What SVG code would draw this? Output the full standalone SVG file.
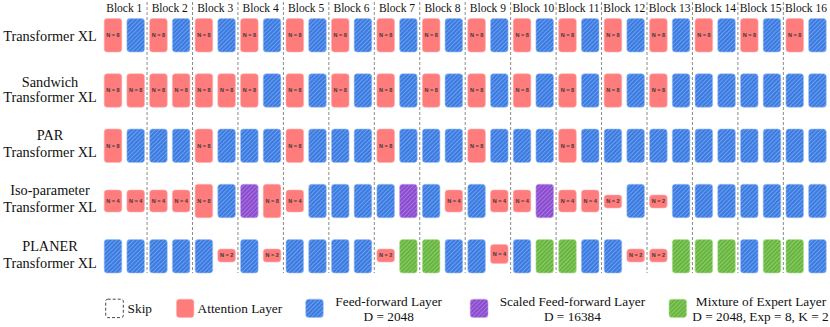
<svg xmlns="http://www.w3.org/2000/svg" width="830" height="327" viewBox="0 0 830 327">
<defs>
<pattern id="pb" width="3" height="3" patternUnits="userSpaceOnUse" patternTransform="rotate(45)"><rect width="3" height="3" fill="#3b7bdf"/><line x1="0.5" y1="0" x2="0.5" y2="3" stroke="#6b9ef0" stroke-width="1"/></pattern>
<pattern id="pp" width="3" height="3" patternUnits="userSpaceOnUse" patternTransform="rotate(45)"><rect width="3" height="3" fill="#8a4ccc"/><line x1="0.5" y1="0" x2="0.5" y2="3" stroke="#a874e2" stroke-width="1"/></pattern>
<pattern id="pg" width="3" height="3" patternUnits="userSpaceOnUse" patternTransform="rotate(45)"><rect width="3" height="3" fill="#67b540"/><line x1="0.5" y1="0" x2="0.5" y2="3" stroke="#8ccc68" stroke-width="1"/></pattern>
</defs>
<style>
.att{fill:#fe7c7c;stroke:#ffb0b0;stroke-width:0.6}
.ff{fill:url(#pb);stroke:#9cc0f5;stroke-width:0.6}
.sff{fill:url(#pp);stroke:#c4a0ee;stroke-width:0.6}
.moe{fill:url(#pg);stroke:#b0e090;stroke-width:0.6}
.n{font-family:'Liberation Sans',Arial,sans-serif;font-size:5.5px;fill:#3a3a3a;text-anchor:middle;font-weight:bold}
.lbl{font-family:'Liberation Serif','Times New Roman','DejaVu Serif',serif;font-size:14.3px;fill:#111;text-anchor:middle}
.blk{font-family:'Liberation Serif','Times New Roman','DejaVu Serif',serif;font-size:11.5px;fill:#111;text-anchor:middle}
.leg{font-family:'Liberation Serif','Times New Roman','DejaVu Serif',serif;font-size:13.3px;fill:#111}
.div{stroke:#8a8a8a;stroke-width:1;stroke-dasharray:3 2}
</style>
<rect width="830" height="327" fill="#fff"/>

<g id="block-labels">
<text class="blk" x="124.3" y="12.3">Block 1</text>
<text class="blk" x="169.75" y="12.3">Block 2</text>
<text class="blk" x="215.2" y="12.3">Block 3</text>
<text class="blk" x="260.65" y="12.3">Block 4</text>
<text class="blk" x="306.1" y="12.3">Block 5</text>
<text class="blk" x="351.55" y="12.3">Block 6</text>
<text class="blk" x="397" y="12.3">Block 7</text>
<text class="blk" x="442.45" y="12.3">Block 8</text>
<text class="blk" x="487.9" y="12.3">Block 9</text>
<text class="blk" x="533.35" y="12.3">Block 10</text>
<text class="blk" x="578.8" y="12.3">Block 11</text>
<text class="blk" x="624.25" y="12.3">Block 12</text>
<text class="blk" x="669.7" y="12.3">Block 13</text>
<text class="blk" x="715.15" y="12.3">Block 14</text>
<text class="blk" x="760.6" y="12.3">Block 15</text>
<text class="blk" x="806.05" y="12.3">Block 16</text>
</g>

<g id="connectors">
<line class="div" x1="147.05" y1="2" x2="147.05" y2="273"/>
<line class="div" x1="192.5" y1="2" x2="192.5" y2="273"/>
<line class="div" x1="237.95" y1="2" x2="237.95" y2="273"/>
<line class="div" x1="283.4" y1="2" x2="283.4" y2="273"/>
<line class="div" x1="328.85" y1="2" x2="328.85" y2="273"/>
<line class="div" x1="374.3" y1="2" x2="374.3" y2="273"/>
<line class="div" x1="419.75" y1="2" x2="419.75" y2="273"/>
<line class="div" x1="465.2" y1="2" x2="465.2" y2="273"/>
<line class="div" x1="510.65" y1="2" x2="510.65" y2="273"/>
<line class="div" x1="556.1" y1="2" x2="556.1" y2="273"/>
<line class="div" x1="601.55" y1="2" x2="601.55" y2="273"/>
<line class="div" x1="647" y1="2" x2="647" y2="273"/>
<line class="div" x1="692.45" y1="2" x2="692.45" y2="273"/>
<line class="div" x1="737.9" y1="2" x2="737.9" y2="273"/>
<line class="div" x1="783.35" y1="2" x2="783.35" y2="273"/>
</g>

<g id="row-labels">
<text class="lbl" x="50" y="40.5">Transformer XL</text>
<text class="lbl" x="50" y="86.7">Sandwich</text>
<text class="lbl" x="50" y="102.4">Transformer XL</text>
<text class="lbl" x="50" y="140">PAR</text>
<text class="lbl" x="50" y="156.5">Transformer XL</text>
<text class="lbl" x="50" y="195">Iso-parameter</text>
<text class="lbl" x="50" y="211.5">Transformer XL</text>
<text class="lbl" x="50" y="251">PLANER</text>
<text class="lbl" x="50" y="268">Transformer XL</text>
</g>

<!-- Row 1: Transformer XL -->
<g id="row1">
<g id="r1-b1a"><rect class="att" x="104.2" y="18.5" width="17.6" height="33.5" rx="3"/><text class="n" x="113" y="37.2">N = 8</text></g>
<g id="r1-b1b"><rect class="ff" x="126.9" y="18.5" width="17.6" height="33.5" rx="3"/></g>
<g id="r1-b2a"><rect class="att" x="149.65" y="18.5" width="17.6" height="33.5" rx="3"/><text class="n" x="158.45" y="37.2">N = 8</text></g>
<g id="r1-b2b"><rect class="ff" x="172.35" y="18.5" width="17.6" height="33.5" rx="3"/></g>
<g id="r1-b3a"><rect class="att" x="195.1" y="18.5" width="17.6" height="33.5" rx="3"/><text class="n" x="203.9" y="37.2">N = 8</text></g>
<g id="r1-b3b"><rect class="ff" x="217.8" y="18.5" width="17.6" height="33.5" rx="3"/></g>
<g id="r1-b4a"><rect class="att" x="240.55" y="18.5" width="17.6" height="33.5" rx="3"/><text class="n" x="249.35" y="37.2">N = 8</text></g>
<g id="r1-b4b"><rect class="ff" x="263.25" y="18.5" width="17.6" height="33.5" rx="3"/></g>
<g id="r1-b5a"><rect class="att" x="286" y="18.5" width="17.6" height="33.5" rx="3"/><text class="n" x="294.8" y="37.2">N = 8</text></g>
<g id="r1-b5b"><rect class="ff" x="308.7" y="18.5" width="17.6" height="33.5" rx="3"/></g>
<g id="r1-b6a"><rect class="att" x="331.45" y="18.5" width="17.6" height="33.5" rx="3"/><text class="n" x="340.25" y="37.2">N = 8</text></g>
<g id="r1-b6b"><rect class="ff" x="354.15" y="18.5" width="17.6" height="33.5" rx="3"/></g>
<g id="r1-b7a"><rect class="att" x="376.9" y="18.5" width="17.6" height="33.5" rx="3"/><text class="n" x="385.7" y="37.2">N = 8</text></g>
<g id="r1-b7b"><rect class="ff" x="399.6" y="18.5" width="17.6" height="33.5" rx="3"/></g>
<g id="r1-b8a"><rect class="att" x="422.35" y="18.5" width="17.6" height="33.5" rx="3"/><text class="n" x="431.15" y="37.2">N = 8</text></g>
<g id="r1-b8b"><rect class="ff" x="445.05" y="18.5" width="17.6" height="33.5" rx="3"/></g>
<g id="r1-b9a"><rect class="att" x="467.8" y="18.5" width="17.6" height="33.5" rx="3"/><text class="n" x="476.6" y="37.2">N = 8</text></g>
<g id="r1-b9b"><rect class="ff" x="490.5" y="18.5" width="17.6" height="33.5" rx="3"/></g>
<g id="r1-b10a"><rect class="att" x="513.25" y="18.5" width="17.6" height="33.5" rx="3"/><text class="n" x="522.05" y="37.2">N = 8</text></g>
<g id="r1-b10b"><rect class="ff" x="535.95" y="18.5" width="17.6" height="33.5" rx="3"/></g>
<g id="r1-b11a"><rect class="att" x="558.7" y="18.5" width="17.6" height="33.5" rx="3"/><text class="n" x="567.5" y="37.2">N = 8</text></g>
<g id="r1-b11b"><rect class="ff" x="581.4" y="18.5" width="17.6" height="33.5" rx="3"/></g>
<g id="r1-b12a"><rect class="att" x="604.15" y="18.5" width="17.6" height="33.5" rx="3"/><text class="n" x="612.95" y="37.2">N = 8</text></g>
<g id="r1-b12b"><rect class="ff" x="626.85" y="18.5" width="17.6" height="33.5" rx="3"/></g>
<g id="r1-b13a"><rect class="att" x="649.6" y="18.5" width="17.6" height="33.5" rx="3"/><text class="n" x="658.4" y="37.2">N = 8</text></g>
<g id="r1-b13b"><rect class="ff" x="672.3" y="18.5" width="17.6" height="33.5" rx="3"/></g>
<g id="r1-b14a"><rect class="att" x="695.05" y="18.5" width="17.6" height="33.5" rx="3"/><text class="n" x="703.85" y="37.2">N = 8</text></g>
<g id="r1-b14b"><rect class="ff" x="717.75" y="18.5" width="17.6" height="33.5" rx="3"/></g>
<g id="r1-b15a"><rect class="att" x="740.5" y="18.5" width="17.6" height="33.5" rx="3"/><text class="n" x="749.3" y="37.2">N = 8</text></g>
<g id="r1-b15b"><rect class="ff" x="763.2" y="18.5" width="17.6" height="33.5" rx="3"/></g>
<g id="r1-b16a"><rect class="att" x="785.95" y="18.5" width="17.6" height="33.5" rx="3"/><text class="n" x="794.75" y="37.2">N = 8</text></g>
<g id="r1-b16b"><rect class="ff" x="808.65" y="18.5" width="17.6" height="33.5" rx="3"/></g>
</g>

<!-- Row 2: Sandwich -->
<g id="row2">
<g id="r2-b1a"><rect class="att" x="104.2" y="73.75" width="17.6" height="33.5" rx="3"/><text class="n" x="113" y="92.45">N = 8</text></g>
<g id="r2-b1b"><rect class="att" x="126.9" y="73.75" width="17.6" height="33.5" rx="3"/><text class="n" x="135.7" y="92.45">N = 8</text></g>
<g id="r2-b2a"><rect class="att" x="149.65" y="73.75" width="17.6" height="33.5" rx="3"/><text class="n" x="158.45" y="92.45">N = 8</text></g>
<g id="r2-b2b"><rect class="att" x="172.35" y="73.75" width="17.6" height="33.5" rx="3"/><text class="n" x="181.15" y="92.45">N = 8</text></g>
<g id="r2-b3a"><rect class="att" x="195.1" y="73.75" width="17.6" height="33.5" rx="3"/><text class="n" x="203.9" y="92.45">N = 8</text></g>
<g id="r2-b3b"><rect class="att" x="217.8" y="73.75" width="17.6" height="33.5" rx="3"/><text class="n" x="226.6" y="92.45">N = 8</text></g>
<g id="r2-b4a"><rect class="att" x="240.55" y="73.75" width="17.6" height="33.5" rx="3"/><text class="n" x="249.35" y="92.45">N = 8</text></g>
<g id="r2-b4b"><rect class="ff" x="263.25" y="73.75" width="17.6" height="33.5" rx="3"/></g>
<g id="r2-b5a"><rect class="att" x="286" y="73.75" width="17.6" height="33.5" rx="3"/><text class="n" x="294.8" y="92.45">N = 8</text></g>
<g id="r2-b5b"><rect class="ff" x="308.7" y="73.75" width="17.6" height="33.5" rx="3"/></g>
<g id="r2-b6a"><rect class="att" x="331.45" y="73.75" width="17.6" height="33.5" rx="3"/><text class="n" x="340.25" y="92.45">N = 8</text></g>
<g id="r2-b6b"><rect class="ff" x="354.15" y="73.75" width="17.6" height="33.5" rx="3"/></g>
<g id="r2-b7a"><rect class="att" x="376.9" y="73.75" width="17.6" height="33.5" rx="3"/><text class="n" x="385.7" y="92.45">N = 8</text></g>
<g id="r2-b7b"><rect class="ff" x="399.6" y="73.75" width="17.6" height="33.5" rx="3"/></g>
<g id="r2-b8a"><rect class="att" x="422.35" y="73.75" width="17.6" height="33.5" rx="3"/><text class="n" x="431.15" y="92.45">N = 8</text></g>
<g id="r2-b8b"><rect class="ff" x="445.05" y="73.75" width="17.6" height="33.5" rx="3"/></g>
<g id="r2-b9a"><rect class="att" x="467.8" y="73.75" width="17.6" height="33.5" rx="3"/><text class="n" x="476.6" y="92.45">N = 8</text></g>
<g id="r2-b9b"><rect class="ff" x="490.5" y="73.75" width="17.6" height="33.5" rx="3"/></g>
<g id="r2-b10a"><rect class="att" x="513.25" y="73.75" width="17.6" height="33.5" rx="3"/><text class="n" x="522.05" y="92.45">N = 8</text></g>
<g id="r2-b10b"><rect class="ff" x="535.95" y="73.75" width="17.6" height="33.5" rx="3"/></g>
<g id="r2-b11a"><rect class="att" x="558.7" y="73.75" width="17.6" height="33.5" rx="3"/><text class="n" x="567.5" y="92.45">N = 8</text></g>
<g id="r2-b11b"><rect class="ff" x="581.4" y="73.75" width="17.6" height="33.5" rx="3"/></g>
<g id="r2-b12a"><rect class="att" x="604.15" y="73.75" width="17.6" height="33.5" rx="3"/><text class="n" x="612.95" y="92.45">N = 8</text></g>
<g id="r2-b12b"><rect class="ff" x="626.85" y="73.75" width="17.6" height="33.5" rx="3"/></g>
<g id="r2-b13a"><rect class="att" x="649.6" y="73.75" width="17.6" height="33.5" rx="3"/><text class="n" x="658.4" y="92.45">N = 8</text></g>
<g id="r2-b13b"><rect class="ff" x="672.3" y="73.75" width="17.6" height="33.5" rx="3"/></g>
<g id="r2-b14a"><rect class="ff" x="695.05" y="73.75" width="17.6" height="33.5" rx="3"/></g>
<g id="r2-b14b"><rect class="ff" x="717.75" y="73.75" width="17.6" height="33.5" rx="3"/></g>
<g id="r2-b15a"><rect class="ff" x="740.5" y="73.75" width="17.6" height="33.5" rx="3"/></g>
<g id="r2-b15b"><rect class="ff" x="763.2" y="73.75" width="17.6" height="33.5" rx="3"/></g>
<g id="r2-b16a"><rect class="ff" x="785.95" y="73.75" width="17.6" height="33.5" rx="3"/></g>
<g id="r2-b16b"><rect class="ff" x="808.65" y="73.75" width="17.6" height="33.5" rx="3"/></g>
</g>

<!-- Row 3: PAR -->
<g id="row3">
<g id="r3-b1a"><rect class="att" x="104.2" y="129" width="17.6" height="33.5" rx="3"/><text class="n" x="113" y="147.7">N = 8</text></g>
<g id="r3-b1b"><rect class="ff" x="126.9" y="129" width="17.6" height="33.5" rx="3"/></g>
<g id="r3-b2a"><rect class="ff" x="149.65" y="129" width="17.6" height="33.5" rx="3"/></g>
<g id="r3-b2b"><rect class="ff" x="172.35" y="129" width="17.6" height="33.5" rx="3"/></g>
<g id="r3-b3a"><rect class="att" x="195.1" y="129" width="17.6" height="33.5" rx="3"/><text class="n" x="203.9" y="147.7">N = 8</text></g>
<g id="r3-b3b"><rect class="ff" x="217.8" y="129" width="17.6" height="33.5" rx="3"/></g>
<g id="r3-b4a"><rect class="ff" x="240.55" y="129" width="17.6" height="33.5" rx="3"/></g>
<g id="r3-b4b"><rect class="ff" x="263.25" y="129" width="17.6" height="33.5" rx="3"/></g>
<g id="r3-b5a"><rect class="att" x="286" y="129" width="17.6" height="33.5" rx="3"/><text class="n" x="294.8" y="147.7">N = 8</text></g>
<g id="r3-b5b"><rect class="ff" x="308.7" y="129" width="17.6" height="33.5" rx="3"/></g>
<g id="r3-b6a"><rect class="ff" x="331.45" y="129" width="17.6" height="33.5" rx="3"/></g>
<g id="r3-b6b"><rect class="ff" x="354.15" y="129" width="17.6" height="33.5" rx="3"/></g>
<g id="r3-b7a"><rect class="att" x="376.9" y="129" width="17.6" height="33.5" rx="3"/><text class="n" x="385.7" y="147.7">N = 8</text></g>
<g id="r3-b7b"><rect class="ff" x="399.6" y="129" width="17.6" height="33.5" rx="3"/></g>
<g id="r3-b8a"><rect class="ff" x="422.35" y="129" width="17.6" height="33.5" rx="3"/></g>
<g id="r3-b8b"><rect class="ff" x="445.05" y="129" width="17.6" height="33.5" rx="3"/></g>
<g id="r3-b9a"><rect class="att" x="467.8" y="129" width="17.6" height="33.5" rx="3"/><text class="n" x="476.6" y="147.7">N = 8</text></g>
<g id="r3-b9b"><rect class="ff" x="490.5" y="129" width="17.6" height="33.5" rx="3"/></g>
<g id="r3-b10a"><rect class="ff" x="513.25" y="129" width="17.6" height="33.5" rx="3"/></g>
<g id="r3-b10b"><rect class="ff" x="535.95" y="129" width="17.6" height="33.5" rx="3"/></g>
<g id="r3-b11a"><rect class="att" x="558.7" y="129" width="17.6" height="33.5" rx="3"/><text class="n" x="567.5" y="147.7">N = 8</text></g>
<g id="r3-b11b"><rect class="ff" x="581.4" y="129" width="17.6" height="33.5" rx="3"/></g>
<g id="r3-b12a"><rect class="ff" x="604.15" y="129" width="17.6" height="33.5" rx="3"/></g>
<g id="r3-b12b"><rect class="ff" x="626.85" y="129" width="17.6" height="33.5" rx="3"/></g>
<g id="r3-b13a"><rect class="ff" x="649.6" y="129" width="17.6" height="33.5" rx="3"/></g>
<g id="r3-b13b"><rect class="ff" x="672.3" y="129" width="17.6" height="33.5" rx="3"/></g>
<g id="r3-b14a"><rect class="ff" x="695.05" y="129" width="17.6" height="33.5" rx="3"/></g>
<g id="r3-b14b"><rect class="ff" x="717.75" y="129" width="17.6" height="33.5" rx="3"/></g>
<g id="r3-b15a"><rect class="ff" x="740.5" y="129" width="17.6" height="33.5" rx="3"/></g>
<g id="r3-b15b"><rect class="ff" x="763.2" y="129" width="17.6" height="33.5" rx="3"/></g>
<g id="r3-b16a"><rect class="ff" x="785.95" y="129" width="17.6" height="33.5" rx="3"/></g>
<g id="r3-b16b"><rect class="ff" x="808.65" y="129" width="17.6" height="33.5" rx="3"/></g>
</g>

<!-- Row 4: Iso-parameter -->
<g id="row4">
<g id="r4-b1a"><rect class="att" x="104.2" y="190" width="17.6" height="22" rx="3"/><text class="n" x="113" y="202.95">N = 4</text></g>
<g id="r4-b1b"><rect class="att" x="126.9" y="190" width="17.6" height="22" rx="3"/><text class="n" x="135.7" y="202.95">N = 4</text></g>
<g id="r4-b2a"><rect class="att" x="149.65" y="190" width="17.6" height="22" rx="3"/><text class="n" x="158.45" y="202.95">N = 4</text></g>
<g id="r4-b2b"><rect class="att" x="172.35" y="190" width="17.6" height="22" rx="3"/><text class="n" x="181.15" y="202.95">N = 4</text></g>
<g id="r4-b3a"><rect class="att" x="195.1" y="184.25" width="17.6" height="33.5" rx="3"/><text class="n" x="203.9" y="202.95">N = 8</text></g>
<g id="r4-b3b"><rect class="ff" x="217.8" y="184.25" width="17.6" height="33.5" rx="3"/></g>
<g id="r4-b4a"><rect class="sff" x="240.55" y="184.25" width="17.6" height="33.5" rx="3"/></g>
<g id="r4-b4b"><rect class="att" x="263.25" y="184.25" width="17.6" height="33.5" rx="3"/><text class="n" x="272.05" y="202.95">N = 8</text></g>
<g id="r4-b5a"><rect class="att" x="286" y="190" width="17.6" height="22" rx="3"/><text class="n" x="294.8" y="202.95">N = 4</text></g>
<g id="r4-b5b"><rect class="ff" x="308.7" y="184.25" width="17.6" height="33.5" rx="3"/></g>
<g id="r4-b6a"><rect class="ff" x="331.45" y="184.25" width="17.6" height="33.5" rx="3"/></g>
<g id="r4-b6b"><rect class="ff" x="354.15" y="184.25" width="17.6" height="33.5" rx="3"/></g>
<g id="r4-b7a"><rect class="ff" x="376.9" y="184.25" width="17.6" height="33.5" rx="3"/></g>
<g id="r4-b7b"><rect class="sff" x="399.6" y="184.25" width="17.6" height="33.5" rx="3"/></g>
<g id="r4-b8a"><rect class="ff" x="422.35" y="184.25" width="17.6" height="33.5" rx="3"/></g>
<g id="r4-b8b"><rect class="att" x="445.05" y="190" width="17.6" height="22" rx="3"/><text class="n" x="453.85" y="202.95">N = 4</text></g>
<g id="r4-b9a"><rect class="ff" x="467.8" y="184.25" width="17.6" height="33.5" rx="3"/></g>
<g id="r4-b9b"><rect class="att" x="490.5" y="190" width="17.6" height="22" rx="3"/><text class="n" x="499.3" y="202.95">N = 4</text></g>
<g id="r4-b10a"><rect class="att" x="513.25" y="190" width="17.6" height="22" rx="3"/><text class="n" x="522.05" y="202.95">N = 4</text></g>
<g id="r4-b10b"><rect class="sff" x="535.95" y="184.25" width="17.6" height="33.5" rx="3"/></g>
<g id="r4-b11a"><rect class="att" x="558.7" y="190" width="17.6" height="22" rx="3"/><text class="n" x="567.5" y="202.95">N = 4</text></g>
<g id="r4-b11b"><rect class="att" x="581.4" y="190" width="17.6" height="22" rx="3"/><text class="n" x="590.2" y="202.95">N = 4</text></g>
<g id="r4-b12a"><rect class="att" x="604.15" y="195" width="17.6" height="13" rx="3"/><text class="n" x="612.95" y="203.45">N = 2</text></g>
<g id="r4-b12b"><rect class="ff" x="626.85" y="184.25" width="17.6" height="33.5" rx="3"/></g>
<g id="r4-b13a"><rect class="att" x="649.6" y="195" width="17.6" height="13" rx="3"/><text class="n" x="658.4" y="203.45">N = 2</text></g>
<g id="r4-b13b"><rect class="ff" x="672.3" y="184.25" width="17.6" height="33.5" rx="3"/></g>
<g id="r4-b14a"><rect class="ff" x="695.05" y="184.25" width="17.6" height="33.5" rx="3"/></g>
<g id="r4-b14b"><rect class="ff" x="717.75" y="184.25" width="17.6" height="33.5" rx="3"/></g>
<g id="r4-b15a"><rect class="ff" x="740.5" y="184.25" width="17.6" height="33.5" rx="3"/></g>
<g id="r4-b15b"><rect class="ff" x="763.2" y="184.25" width="17.6" height="33.5" rx="3"/></g>
<g id="r4-b16a"><rect class="ff" x="785.95" y="184.25" width="17.6" height="33.5" rx="3"/></g>
<g id="r4-b16b"><rect class="ff" x="808.65" y="184.25" width="17.6" height="33.5" rx="3"/></g>
</g>

<!-- Row 5: PLANER -->
<g id="row5">
<g id="r5-b1a"><rect class="ff" x="104.2" y="239.5" width="17.6" height="33.5" rx="3"/></g>
<g id="r5-b1b"><rect class="ff" x="126.9" y="239.5" width="17.6" height="33.5" rx="3"/></g>
<g id="r5-b2a"><rect class="ff" x="149.65" y="239.5" width="17.6" height="33.5" rx="3"/></g>
<g id="r5-b2b"><rect class="ff" x="172.35" y="239.5" width="17.6" height="33.5" rx="3"/></g>
<g id="r5-b3a"><rect class="ff" x="195.1" y="239.5" width="17.6" height="33.5" rx="3"/></g>
<g id="r5-b3b"><rect class="att" x="217.8" y="249" width="17.6" height="13" rx="3"/><text class="n" x="226.6" y="257.45">N = 2</text></g>
<g id="r5-b4a"><rect class="ff" x="240.55" y="239.5" width="17.6" height="33.5" rx="3"/></g>
<g id="r5-b4b"><rect class="att" x="263.25" y="249" width="17.6" height="13" rx="3"/><text class="n" x="272.05" y="257.45">N = 2</text></g>
<g id="r5-b5a"><rect class="ff" x="286" y="239.5" width="17.6" height="33.5" rx="3"/></g>
<g id="r5-b5b"><rect class="ff" x="308.7" y="239.5" width="17.6" height="33.5" rx="3"/></g>
<g id="r5-b6a"><rect class="ff" x="331.45" y="239.5" width="17.6" height="33.5" rx="3"/></g>
<g id="r5-b6b"><rect class="ff" x="354.15" y="239.5" width="17.6" height="33.5" rx="3"/></g>
<g id="r5-b7a"><rect class="att" x="376.9" y="249" width="17.6" height="13" rx="3"/><text class="n" x="385.7" y="257.45">N = 2</text></g>
<g id="r5-b7b"><rect class="moe" x="399.6" y="239.5" width="17.6" height="33.5" rx="3"/></g>
<g id="r5-b8a"><rect class="moe" x="422.35" y="239.5" width="17.6" height="33.5" rx="3"/></g>
<g id="r5-b8b"><rect class="ff" x="445.05" y="239.5" width="17.6" height="33.5" rx="3"/></g>
<g id="r5-b9a"><rect class="ff" x="467.8" y="239.5" width="17.6" height="33.5" rx="3"/></g>
<g id="r5-b9b"><rect class="att" x="490.5" y="244.5" width="17.6" height="19" rx="3"/><text class="n" x="499.3" y="255.95">N = 4</text></g>
<g id="r5-b10a"><rect class="ff" x="513.25" y="239.5" width="17.6" height="33.5" rx="3"/></g>
<g id="r5-b10b"><rect class="moe" x="535.95" y="239.5" width="17.6" height="33.5" rx="3"/></g>
<g id="r5-b11a"><rect class="moe" x="558.7" y="239.5" width="17.6" height="33.5" rx="3"/></g>
<g id="r5-b11b"><rect class="ff" x="581.4" y="239.5" width="17.6" height="33.5" rx="3"/></g>
<g id="r5-b12a"><rect class="ff" x="604.15" y="239.5" width="17.6" height="33.5" rx="3"/></g>
<g id="r5-b12b"><rect class="att" x="626.85" y="249" width="17.6" height="13" rx="3"/><text class="n" x="635.65" y="257.45">N = 2</text></g>
<g id="r5-b13a"><rect class="att" x="649.6" y="249" width="17.6" height="13" rx="3"/><text class="n" x="658.4" y="257.45">N = 2</text></g>
<g id="r5-b13b"><rect class="moe" x="672.3" y="239.5" width="17.6" height="33.5" rx="3"/></g>
<g id="r5-b14a"><rect class="moe" x="695.05" y="239.5" width="17.6" height="33.5" rx="3"/></g>
<g id="r5-b14b"><rect class="moe" x="717.75" y="239.5" width="17.6" height="33.5" rx="3"/></g>
<g id="r5-b15a"><rect class="ff" x="740.5" y="239.5" width="17.6" height="33.5" rx="3"/></g>
<g id="r5-b15b"><rect class="moe" x="763.2" y="239.5" width="17.6" height="33.5" rx="3"/></g>
<g id="r5-b16a"><rect class="moe" x="785.95" y="239.5" width="17.6" height="33.5" rx="3"/></g>
<g id="r5-b16b"><rect class="ff" x="808.65" y="239.5" width="17.6" height="33.5" rx="3"/></g>
</g>

<!-- Legend -->
<g id="legend-skip"><rect x="105.7" y="299.2" width="17.6" height="18.4" rx="2" fill="none" stroke="#333" stroke-width="0.9" stroke-dasharray="3 2"/><text class="leg" x="127.6" y="313.3">Skip</text></g>
<g id="legend-attention"><rect class="att" x="176.5" y="299.2" width="17.4" height="18.4" rx="3"/><text class="leg" x="197.6" y="313.3">Attention Layer</text></g>
<g id="legend-ff"><rect class="ff" x="305.7" y="299.2" width="17.6" height="18.4" rx="3"/><text class="leg" x="388.7" y="305.5" text-anchor="middle">Feed-forward Layer</text><text class="leg" x="388.7" y="320.5" text-anchor="middle">D = 2048</text></g>
<g id="legend-sff"><rect class="sff" x="470.2" y="299.2" width="17.8" height="18.4" rx="3"/><text class="leg" x="572.4" y="305.5" text-anchor="middle">Scaled Feed-forward Layer</text><text class="leg" x="572.4" y="320.5" text-anchor="middle">D = 16384</text></g>
<g id="legend-moe"><rect class="moe" x="669" y="299.2" width="17.6" height="18.4" rx="3"/><text class="leg" x="761" y="305.5" text-anchor="middle">Mixture of Expert Layer</text><text class="leg" x="760.5" y="320.5" text-anchor="middle">D = 2048, Exp = 8, K = 2</text></g>
</svg>
